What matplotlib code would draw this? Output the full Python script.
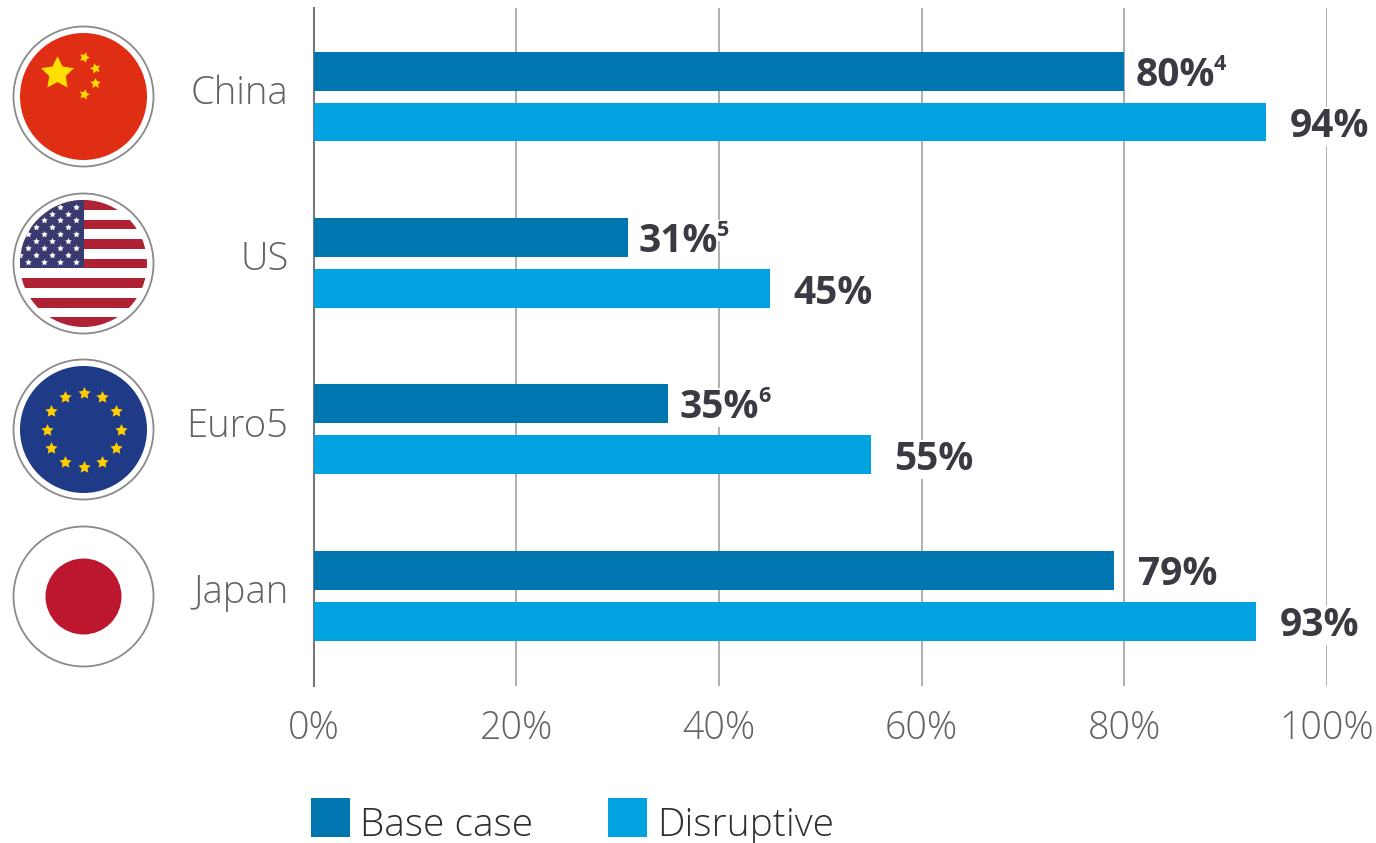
#!/usr/bin/env python3
import matplotlib
matplotlib.use("Agg")
import matplotlib.pyplot as plt
from matplotlib.patches import Circle, Rectangle
from matplotlib.transforms import ScaledTranslation
import numpy as np

W, H = 1376, 843

countries = ["China", "US", "Euro5", "Japan"]
base_case = [80, 31, 35, 79]
disruptive = [94, 45, 55, 93]
base_notes = ["4", "5", "6", ""]
x_ticks = [0, 20, 40, 60, 80, 100]
x_tick_labels = ["0%", "20%", "40%", "60%", "80%", "100%"]
series_names = ["Base case", "Disruptive"]

DARK = "#0076B0"
LIGHT = "#00A3E0"
GREY = "#636363"
INK = "#3A3A42"
FONT = "Open Sans"


def add_ring(ax, cx, cy, fill, r=63.5):
    ax.add_patch(Circle((cx, cy), 70, fc="white", ec="#8A8A8A", lw=1.3))
    disc = Circle((cx, cy), r, fc=fill, ec="none")
    ax.add_patch(disc)
    return disc


def china_flag(ax, cx, cy):
    add_ring(ax, cx, cy, "#E02E14")
    ax.scatter([cx - 27], [cy - 24], marker=(5, 1, 0), s=620, c="#FFDE00", lw=0, zorder=3)
    small = [(0, -40, -20), (11, -29, 15), (11, -14, 0), (0, -3, -15)]
    for dx, dy, ang in small:
        ax.scatter([cx + dx], [cy + dy], marker=(5, 1, ang), s=60, c="#FFDE00", lw=0, zorder=3)


def us_flag(ax, cx, cy):
    disc = add_ring(ax, cx, cy, "white")
    top = cy - 63.5
    step = 9.78
    for i in range(0, 13, 2):
        s = ax.add_patch(Rectangle((cx - 64, top + i * step), 128, step, fc="#AE2234", ec="none"))
        s.set_clip_path(disc)
    canton = ax.add_patch(Rectangle((cx - 64, top), 64, 7 * step, fc="#3A3A70", ec="none", zorder=2))
    canton.set_clip_path(disc)
    for row in range(9):
        y = top + 6.7 + row * 6.85
        xs = [-56, -40, -24, -8] if row % 2 == 0 else [-64, -48, -32, -16]
        for dx in xs:
            st = ax.scatter([cx + dx], [y], marker=(5, 1, 0), s=24, c="white", lw=0, zorder=3)
            st.set_clip_path(disc)


def euro_flag(ax, cx, cy):
    add_ring(ax, cx, cy, "#1F3A87")
    for i in range(12):
        a = np.deg2rad(i * 30)
        ax.scatter([cx + 37 * np.sin(a)], [cy - 37 * np.cos(a)], marker=(5, 1, 0), s=85,
                   c="#FFCC00", lw=0, zorder=3)


def japan_flag(ax, cx, cy):
    add_ring(ax, cx, cy, "white")
    ax.add_patch(Circle((cx, cy), 38, fc="#BC172F", ec="none", zorder=3))


def main():
    fig = plt.figure(figsize=(W / 100, H / 100), dpi=100, facecolor="white")

    # pixel-space layer for the flags and the key
    deco = fig.add_axes([0, 0, 1, 1])
    deco.set_xlim(0, W)
    deco.set_ylim(H, 0)
    deco.axis("off")

    left, right, top, bottom = 313.5, 1327, 8, 686
    ax = fig.add_axes([left / W, 1 - bottom / H, (right - left) / W, (bottom - top) / H])
    ax.patch.set_alpha(0)

    pos = np.arange(len(countries))
    bar_h = 0.234
    off = 0.153
    ax.barh(pos - off, base_case, height=bar_h, color=DARK, zorder=3)
    ax.barh(pos + off, disruptive, height=bar_h, color=LIGHT, zorder=3)

    ax.set_xlim(0, 100)
    ax.set_ylim(3.543, -0.532)
    for s in ["top", "right", "bottom"]:
        ax.spines[s].set_visible(False)
    ax.spines["left"].set_color("#777777")
    ax.spines["left"].set_linewidth(1.5)
    ax.grid(axis="x", color="#9A9A9A", lw=1.1, zorder=1)
    ax.set_axisbelow(True)
    ax.set_xticks(x_ticks)
    ax.set_xticklabels(x_tick_labels, fontfamily=FONT, fontweight="light", fontsize=27, color=GREY)
    ax.set_yticks(pos)
    ax.set_yticklabels(countries, fontfamily=FONT, fontweight="light", fontsize=27.5, color=GREY)
    ax.tick_params(axis="x", length=0, pad=17)
    ax.tick_params(axis="y", length=0, pad=18)
    lift = ScaledTranslation(0, 3 / 100, fig.dpi_scale_trans)
    for lab in ax.get_yticklabels():
        lab.set_verticalalignment("center")
        lab.set_transform(lab.get_transform() + lift)

    box = dict(fc="white", ec="none", pad=0)
    fig.canvas.draw()
    renderer = fig.canvas.get_renderer()
    for i, (v, note) in enumerate(zip(base_case, base_notes)):
        shift = 8 if note else 17
        t = ax.annotate(f"{v}%", (v, i - off), xytext=(shift, -3), textcoords="offset points",
                        fontfamily=FONT, fontweight="bold", fontsize=28, color=INK,
                        va="center", ha="left", bbox=box, zorder=4)
        if note:
            ext = t.get_window_extent(renderer)
            ax.text(ext.x1 - 1, ext.y1 + 2, note, transform=None, fontfamily=FONT,
                    fontweight="bold", fontsize=15.5, color=INK, va="top", ha="left",
                    bbox=box, zorder=4)
    for i, v in enumerate(disruptive):
        ax.annotate(f"{v}%", (v, i + off), xytext=(17, -3.5), textcoords="offset points",
                    fontfamily=FONT, fontweight="bold", fontsize=28, color=INK,
                    va="center", ha="left", bbox=box, zorder=4)

    china_flag(deco, 83.5, 96.5)
    us_flag(deco, 83.5, 263.5)
    euro_flag(deco, 83.5, 429.5)
    japan_flag(deco, 83.5, 596.5)

    # key
    for x0, name, col in zip([311, 608], series_names, [DARK, LIGHT]):
        deco.add_patch(Rectangle((x0, 798), 39, 39, fc=col, ec="none"))
        deco.text(x0 + 49, 836, name, fontfamily=FONT, fontsize=28, fontweight="light",
                  color="#2E2E33", va="baseline", ha="left")

    fig.savefig("out.png", dpi=100)


if __name__ == "__main__":
    main()
